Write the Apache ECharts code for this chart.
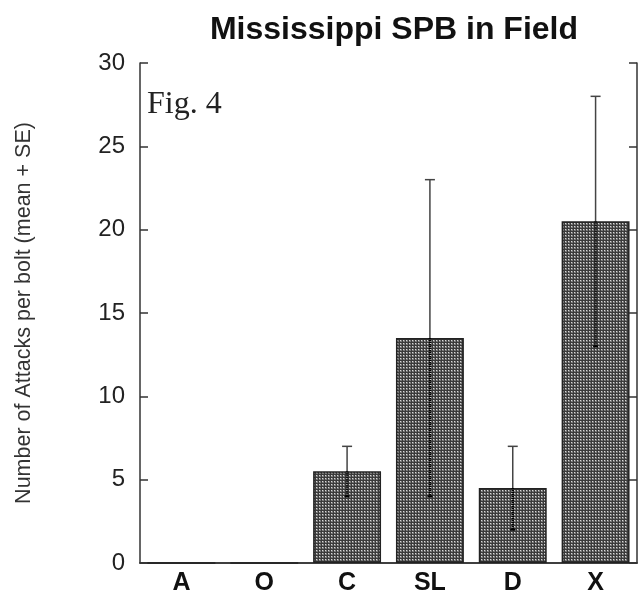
<!DOCTYPE html>
<html>
<head>
<meta charset="utf-8">
<script src="https://cdn.jsdelivr.net/npm/echarts@6/dist/echarts.min.js"></script>
<style>
  html, body { margin: 0; padding: 0; background: #fff; }
  #chart { width: 638px; height: 592px; }
</style>
</head>
<body>
<div id="chart"></div>
<script>
var categories = ['A', 'O', 'C', 'SL', 'D', 'X'];
var means = [0, 0, 5.5, 13.5, 4.5, 20.5];
var errUpper = [0, 0, 7, 23, 7, 28];
var errLower = [0, 0, 4, 4, 2, 13];
var yTicks = [0, 5, 10, 15, 20, 25, 30];

// stippled grey fill like the printed figure
function makePattern() {
  var c = document.createElement('canvas');
  c.width = 3; c.height = 3;
  var ctx = c.getContext('2d');
  ctx.fillStyle = '#7a7a7a';
  ctx.fillRect(0, 0, 3, 3);
  ctx.fillStyle = '#3a3a3a';
  ctx.fillRect(0, 0, 3, 1);
  ctx.fillRect(0, 0, 1, 3);
  ctx.fillStyle = '#d8d8d8';
  ctx.fillRect(1, 1, 1, 1);
  return c;
}

var chart = echarts.init(document.getElementById('chart'));

var errData = [];
categories.forEach(function (cat, i) {
  if (errUpper[i] > means[i]) {
    errData.push([i, means[i], errUpper[i], errLower[i]]);
  }
});

function renderError(params, api) {
  var x = api.coord([api.value(0), 0])[0];
  var pMean = api.coord([api.value(0), api.value(1)]);
  var pHi = api.coord([api.value(0), api.value(2)]);
  var pLo = api.coord([api.value(0), api.value(3)]);
  var cap = 5;
  return {
    type: 'group',
    children: [
      { type: 'line', shape: { x1: x, y1: pMean[1], x2: x, y2: pHi[1] },
        style: { stroke: '#444', lineWidth: 1.5 } },
      { type: 'line', shape: { x1: x - cap, y1: pHi[1], x2: x + cap, y2: pHi[1] },
        style: { stroke: '#444', lineWidth: 1.5 } },
      { type: 'line', shape: { x1: x, y1: pMean[1], x2: x, y2: pLo[1] },
        style: { stroke: '#000', lineWidth: 2.5, lineDash: [1, 1] } },
      { type: 'line', shape: { x1: x - 2.5, y1: pLo[1], x2: x + 2.5, y2: pLo[1] },
        style: { stroke: '#000', lineWidth: 2 } }
    ]
  };
}

var option = {
  animation: false,
  backgroundColor: '#fff',
  title: {
    text: 'Mississippi SPB in Field',
    left: 389,
    textAlign: 'center',
    top: 9,
    textStyle: { fontFamily: 'Liberation Sans', fontWeight: 'bold', fontSize: 32, color: '#111' }
  },
  graphic: [{
    type: 'text',
    left: 147,
    top: 89,
    style: { text: 'Fig. 4', fontFamily: 'Liberation Serif', fontSize: 32, fill: '#222' }
  }],
  grid: { left: 140, right: 1, top: 63, bottom: 29, outerBoundsMode: 'none' },
  xAxis: [{
    type: 'category',
    data: categories,
    axisLine: { lineStyle: { color: '#333', width: 1.5 } },
    axisTick: { inside: true, length: 7, lineStyle: { color: '#333', width: 1.5 } },
    axisLabel: { fontFamily: 'Liberation Sans', fontWeight: 'bold', fontSize: 25, color: '#111', margin: 8 }
  }, {
    type: 'category',
    data: categories,
    position: 'top',
    axisLine: { lineStyle: { color: '#333', width: 1.5 } },
    axisTick: { inside: true, length: 7, lineStyle: { color: '#333', width: 1.5 } },
    axisLabel: { show: false }
  }],
  yAxis: [{
    type: 'value',
    min: yTicks[0],
    max: yTicks[yTicks.length - 1],
    interval: 5,
    name: 'Number of Attacks per bolt (mean + SE)',
    nameLocation: 'middle',
    nameGap: 105,
    nameTextStyle: { fontFamily: 'Liberation Sans', fontSize: 21.5, color: '#333' },
    axisLine: { show: true, lineStyle: { color: '#333', width: 1.5 } },
    axisTick: { show: true, inside: true, length: 8, lineStyle: { color: '#333', width: 1.5 } },
    axisLabel: { fontFamily: 'Liberation Sans', fontSize: 24, color: '#222', margin: 15 },
    splitLine: { show: false }
  }, {
    type: 'value',
    min: yTicks[0],
    max: yTicks[yTicks.length - 1],
    interval: 5,
    position: 'right',
    axisLine: { show: true, lineStyle: { color: '#333', width: 1.5 } },
    axisTick: { show: true, inside: true, length: 8, lineStyle: { color: '#333', width: 1.5 } },
    axisLabel: { show: false },
    splitLine: { show: false }
  }],
  series: [{
    type: 'bar',
    data: means,
    barCategoryGap: '18%',
    itemStyle: {
      color: { image: makePattern(), repeat: 'repeat' },
      borderColor: '#222',
      borderWidth: 1.5
    }
  }, {
    type: 'custom',
    data: errData,
    renderItem: renderError,
    z: 5
  }]
};

chart.setOption(option);
</script>
</body>
</html>
